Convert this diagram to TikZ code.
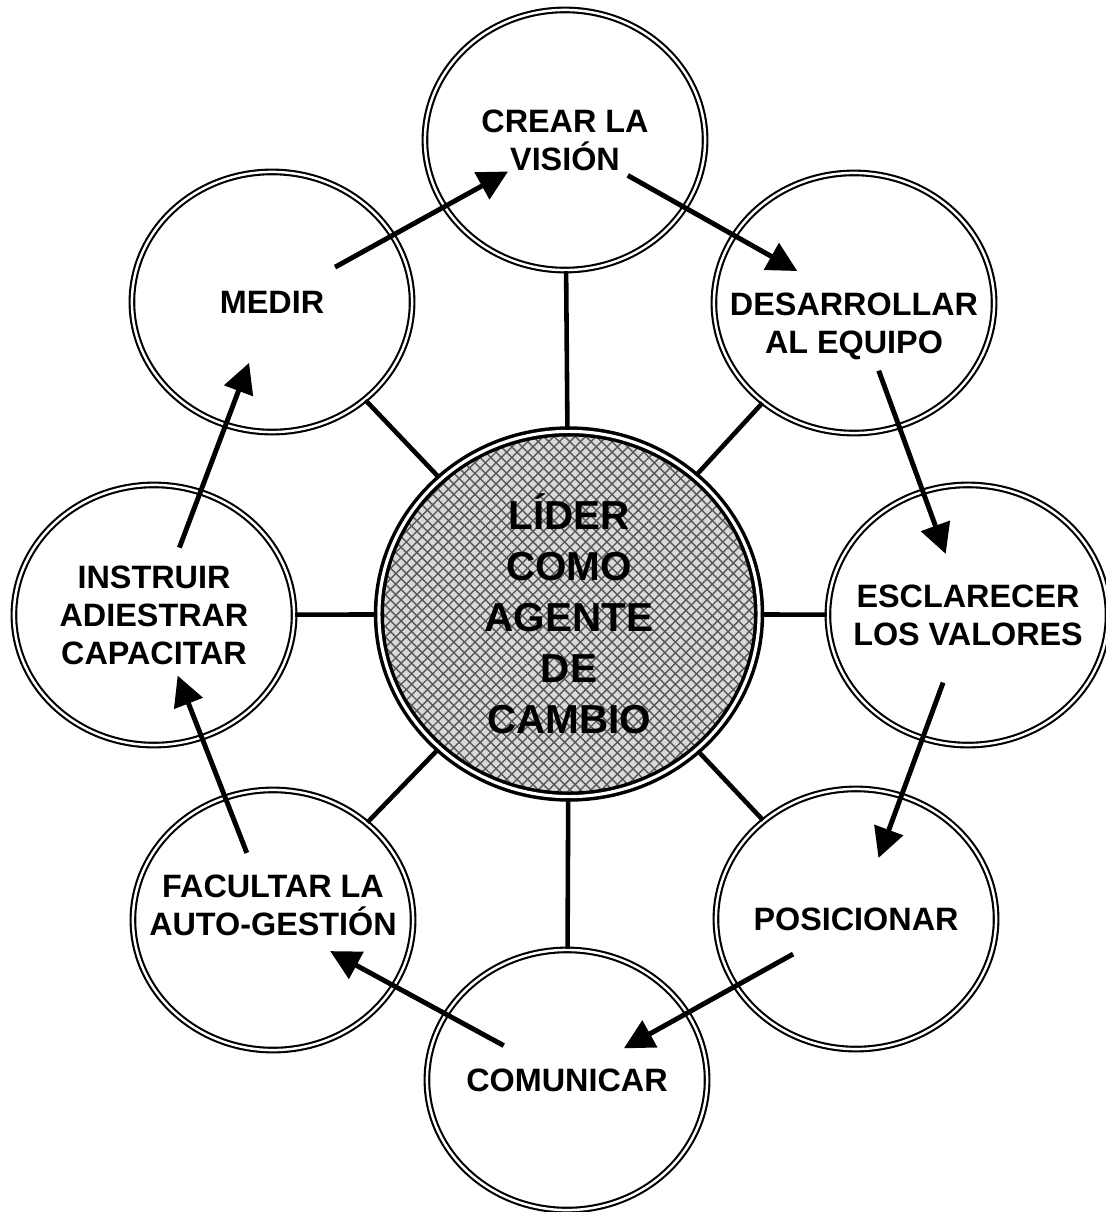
\documentclass[tikz,border=0pt]{standalone}
\usepackage{fontspec}
\setmainfont{Liberation Sans}
\usetikzlibrary{positioning,arrows.meta,shapes.geometric,patterns}

\begin{document}
\begin{tikzpicture}[
        x=0.01cm, y=-0.01cm,
        bubble/.style={ellipse, draw, double, line width=0.6pt, double distance=0.7pt,
          minimum width=2.8cm, minimum height=2.6cm, inner sep=-0.5cm, align=center,
          font=\fontsize{9.2}{10.8}\selectfont\bfseries},
        hub/.style={ellipse, draw, double, line width=1pt, double distance=0.9pt,
          minimum width=3.8cm, minimum height=3.65cm, inner sep=-0.5cm, align=center,
          preaction={fill=gray!30}, pattern=crosshatch, pattern color=black!65,
          font=\fontsize{11.5}{14.5}\selectfont\bfseries},
        spoke/.style={line width=1.3pt},
        flow/.style={-{Triangle[length=8.5pt,width=8.5pt]}, line width=1.4pt,
          shorten <=0.72cm, shorten >=0.65cm}
    ]
      \useasboundingbox (0,0) rectangle (1105,1212);

      % centre
      \node[hub] (lider) at (569,614) {LÍDER\\COMO\\AGENTE\\DE\\CAMBIO};

      % ring
      \node[bubble] (crear) at (565,140) {CREAR LA\\VISIÓN};
      \node[bubble] (desar) at (854,303) {\mbox{}\\[9pt]DESARROLLAR\\AL EQUIPO};
      \node[bubble] (escl) at (968,615) {ESCLARECER\\LOS VALORES};
      \node[bubble] (posic) at (856,919) {POSICIONAR};
      \node[bubble] (comun) at (567,1080) {COMUNICAR};
      \node[bubble] (facul) at (273,920) {FACULTAR LA\\AUTO-GESTIÓN\\[-2.2pt]\mbox{}};
      \node[bubble] (instr) at (154,615) {INSTRUIR\\ADIESTRAR\\CAPACITAR};
      \node[bubble] (medir) at (272,302) {MEDIR};

      \foreach \n in {crear,desar,escl,posic,comun,facul,instr,medir}
        \draw[spoke] (lider) -- (\n);

      \foreach \a/\b in {medir/crear, crear/desar, desar/escl, escl/posic,
                         posic/comun, comun/facul, facul/instr, instr/medir}
        \draw[flow] (\a.center) -- (\b.center);
    \end{tikzpicture}
\end{document}
